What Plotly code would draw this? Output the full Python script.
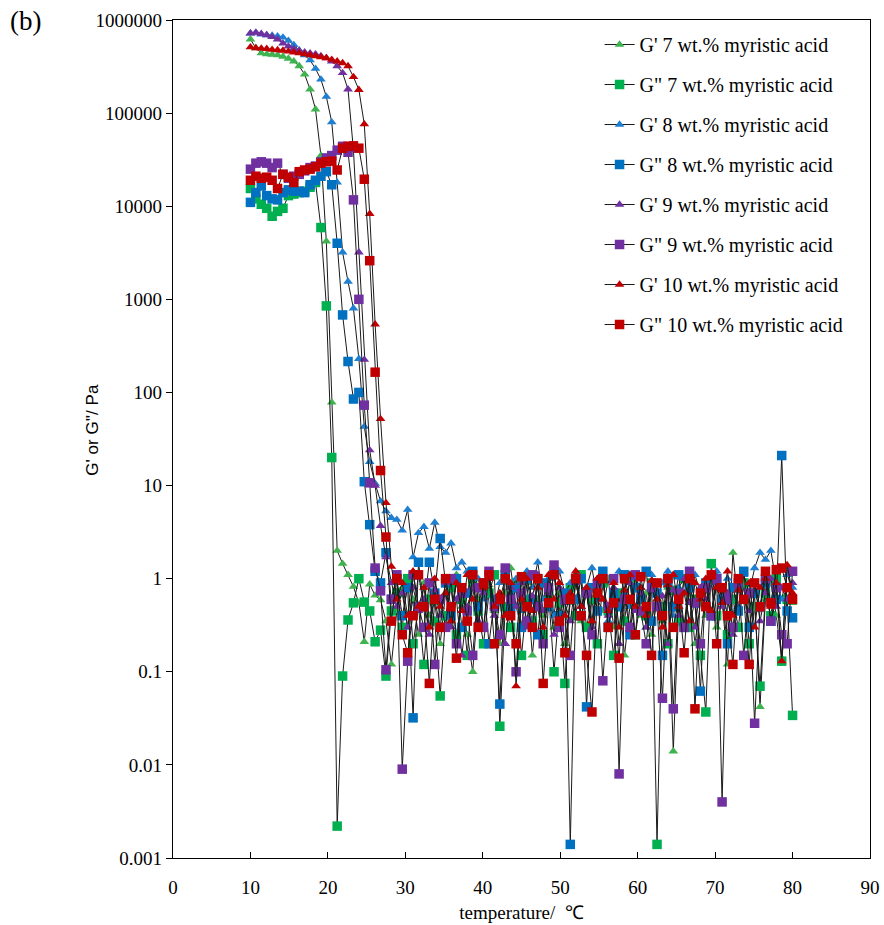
import plotly.graph_objects as go

# Temperature sweep (°C), one reading every 0.7 °C
temperature = [
    10.0, 10.7, 11.4, 12.1, 12.8, 13.5, 14.2, 14.9, 15.6, 16.3,
    17.0, 17.7, 18.4, 19.1, 19.8, 20.5, 21.2, 21.9, 22.6, 23.3,
    24.0, 24.7, 25.4, 26.1, 26.8, 27.5, 28.2, 28.9, 29.6, 30.3,
    31.0, 31.7, 32.4, 33.1, 33.8, 34.5, 35.2, 35.9, 36.6, 37.3,
    38.0, 38.7, 39.4, 40.1, 40.8, 41.5, 42.2, 42.9, 43.6, 44.3,
    45.0, 45.7, 46.4, 47.1, 47.8, 48.5, 49.2, 49.9, 50.6, 51.3,
    52.0, 52.7, 53.4, 54.1, 54.8, 55.5, 56.2, 56.9, 57.6, 58.3,
    59.0, 59.7, 60.4, 61.1, 61.8, 62.5, 63.2, 63.9, 64.6, 65.3,
    66.0, 66.7, 67.4, 68.1, 68.8, 69.5, 70.2, 70.9, 71.6, 72.3,
    73.0, 73.7, 74.4, 75.1, 75.8, 76.5, 77.2, 77.9, 78.6, 79.3,
    80.0,
]

# Storage modulus G' (Pa), 7 wt.% myristic acid
g1_7 = [
    620000, 500000, 440000, 430000, 425000, 420000, 405000, 385000, 360000, 320000,
    260000, 180000, 110000, 35000, 4200, 78, 2.0, 1.45, 1.1, 0.82,
    0.55, 0.21, 0.87, 0.66, 0.59, 0.35, 0.12, 0.45, 0.8, 0.3,
    0.6, 0.25, 0.9, 0.4, 0.55, 0.2, 0.7, 0.35, 1.1, 0.5,
    0.25, 0.1, 0.6, 0.3, 0.85, 0.45, 0.2, 0.7, 1.3, 0.5,
    0.3, 0.9, 0.15, 0.6, 0.4, 1.0, 0.3, 0.7, 0.2, 0.55,
    1.1, 0.35, 0.8, 0.25, 0.6, 0.45, 1.0, 0.3, 0.65, 0.15,
    0.5, 0.9, 0.4, 0.7, 0.25, 0.6, 0.35, 0.8, 0.014, 0.5,
    0.3, 0.75, 0.2, 0.55, 0.4, 0.9, 0.3, 0.6, 0.12, 1.9,
    0.5, 0.8, 0.3, 0.65, 0.042, 0.6, 0.9, 0.4, 0.14, 1.3,
    0.55,
]

# Loss modulus G'' (Pa), 7 wt.% myristic acid
g2_7 = [
    15500, 12000, 10500, 9500, 7800, 8800, 9500, 13000, 13500, 14000,
    14500, 16000, 18000, 5900, 850, 20, 0.0022, 0.09, 0.36, 0.55,
    1.0, 0.56, 0.45, 0.21, 0.28, 0.09, 0.45, 0.7, 0.3, 1.0,
    0.2, 0.5, 0.12, 0.6, 0.35, 0.055, 0.4, 0.8, 0.25, 0.6,
    0.15, 0.9, 0.45, 0.2, 0.7, 1.1, 0.026, 0.5, 0.3, 0.9,
    0.15, 0.6, 0.35, 1.0, 0.25, 0.7, 0.1, 0.55, 0.075, 0.8,
    0.4, 1.1, 0.3, 0.6, 0.2, 0.9, 0.45, 0.15, 0.7, 0.35,
    1.0, 0.25, 0.6, 0.4, 0.9, 0.0014, 0.5, 0.2, 0.75, 0.35,
    1.0, 0.3, 0.6, 0.15, 0.037, 1.45, 0.4, 0.8, 0.25, 0.6,
    0.3, 0.9, 0.2, 0.5, 0.07, 0.7, 0.4, 1.0, 0.13, 0.6,
    0.034,
]

# Storage modulus G' (Pa), 8 wt.% myristic acid
g1_8 = [
    720000, 730000, 700000, 690000, 680000, 670000, 650000, 600000, 540000, 470000,
    420000, 370000, 300000, 230000, 150000, 80000, 18000, 3200, 1550, 800,
    230, 43, 18, 10.5, 6.8, 5.3, 4.5, 4.3, 3.3, 5.5,
    1.7, 3.1, 3.6, 2.1, 4.0, 2.2, 1.9, 2.4, 1.3, 1.5,
    1.2, 0.8, 1.0, 0.6, 1.1, 0.5, 0.9, 1.3, 0.7, 1.0,
    0.45, 1.2, 0.8, 1.5, 0.6, 1.0, 0.4, 1.2, 0.7, 0.9,
    1.1, 0.5, 0.8, 1.3, 0.6, 1.0, 0.35, 0.9, 1.2, 0.7,
    0.5, 1.0, 0.8, 0.3, 1.1, 0.6, 0.9, 1.2, 0.4, 0.8,
    1.0, 0.55, 1.1, 0.7, 0.9, 0.4, 1.2, 0.6, 1.0, 0.8,
    0.5, 1.1, 0.7, 1.3, 1.9, 1.6, 2.0, 0.9, 0.6, 1.1,
    0.8,
]

# Loss modulus G'' (Pa), 8 wt.% myristic acid
g2_8 = [
    11000, 14000, 16500, 13000, 12000, 11700, 14000, 15000, 14500, 14500,
    14000, 17000, 19000, 21000, 23500, 17000, 4000, 680, 215, 85,
    100, 11, 3.8, 1.2, 0.9, 1.9, 0.6, 1.0, 0.4, 0.8,
    0.032, 1.5, 0.5, 1.5, 0.7, 2.7, 0.9, 0.4, 1.0, 0.3,
    0.7, 1.2, 0.5, 0.9, 0.2, 0.6, 0.045, 1.1, 0.5, 0.8,
    0.3, 1.0, 0.6, 0.25, 0.9, 0.5, 1.2, 0.4, 0.7, 0.0014,
    0.6, 1.0, 0.042, 0.8, 0.45, 1.2, 0.3, 0.7, 0.5, 1.1,
    0.25, 0.8, 0.6, 1.2, 0.35, 0.7, 0.15, 0.9, 0.5, 1.1,
    0.3, 0.8, 0.55, 0.062, 0.9, 0.4, 1.0, 0.6, 0.2, 0.8,
    0.45, 1.2, 0.3, 0.7, 0.5, 0.9, 0.35, 0.6, 21, 0.45,
    0.38,
]

# Storage modulus G' (Pa), 9 wt.% myristic acid
g1_9 = [
    720000, 730000, 710000, 690000, 660000, 620000, 560000, 520000, 490000, 470000,
    450000, 440000, 430000, 410000, 390000, 360000, 320000, 270000, 180000, 40000,
    3200, 225, 24, 10, 3.7, 1.7, 0.9, 0.5, 0.7, 0.3,
    0.8, 0.45, 0.6, 0.25, 0.75, 0.4, 0.9, 0.3, 0.6, 0.15,
    0.5, 0.8, 0.35, 0.7, 1.0, 0.4, 0.6, 0.2, 0.8, 0.5,
    0.9, 0.3, 0.65, 1.1, 0.45, 0.7, 0.25, 0.8, 0.55, 0.35,
    0.9, 0.5, 0.7, 0.3, 1.0, 0.6, 0.4, 0.8, 0.2, 0.6,
    0.9, 0.45, 0.7, 0.3, 0.85, 0.5, 0.65, 0.2, 0.75, 0.4,
    1.0, 0.55, 0.3, 0.8, 0.6, 0.4, 0.9, 0.5, 0.7, 0.25,
    0.8, 0.6, 0.45, 0.9, 0.35, 0.7, 1.0, 0.5, 0.8, 0.6,
    0.9,
]

# Loss modulus G'' (Pa), 9 wt.% myristic acid
g2_9 = [
    25000, 29000, 30000, 29000, 26000, 29000, 22000, 20000, 21000, 22000,
    24000, 26000, 27000, 30000, 33000, 35000, 40000, 44000, 38000, 11700,
    1000, 73, 10.7, 1.3, 0.74, 0.105, 0.6, 1.1, 0.009, 0.13,
    1.1, 0.5, 0.3, 0.9, 0.12, 0.6, 0.3, 1.0, 0.2, 0.7,
    0.45, 0.15, 0.8, 0.3, 1.2, 0.5, 0.25, 1.3, 0.6, 0.1,
    0.7, 0.35, 1.1, 0.5, 0.2, 0.8, 1.4, 0.3, 0.6, 0.15,
    1.0, 0.4, 0.7, 0.25, 0.9, 0.08, 0.5, 1.0, 0.008, 0.6,
    0.3, 1.1, 0.45, 0.2, 0.8, 0.5, 0.052, 1.0, 0.04, 0.7,
    0.3, 1.2, 0.55, 0.2, 0.8, 0.4, 1.0, 0.004, 0.6, 0.3,
    0.9, 0.15, 0.7, 0.028, 0.5, 1.0, 0.35, 0.8, 0.25, 0.2,
    1.2,
]

# Storage modulus G' (Pa), 10 wt.% myristic acid
g1_10 = [
    510000, 500000, 495000, 490000, 480000, 475000, 470000, 460000, 450000, 440000,
    430000, 420000, 410000, 400000, 390000, 375000, 360000, 345000, 320000, 245000,
    178000, 76000, 8300, 540, 52, 6.5, 1.35, 0.6, 0.9, 0.4,
    1.2, 0.5, 0.8, 0.3, 1.0, 0.5, 0.7, 0.35, 0.9, 0.45,
    1.1, 0.6, 0.3, 0.8, 1.0, 0.5, 0.7, 0.4, 0.9, 0.07,
    0.6, 1.0, 0.45, 0.8, 0.3, 1.1, 0.6, 0.9, 0.4, 0.7,
    1.2, 0.5, 0.8, 0.35, 1.0, 0.6, 0.45, 0.9, 0.3, 0.75,
    1.1, 0.5, 0.8, 0.4, 0.95, 0.6, 0.3, 0.85, 1.1, 0.5,
    0.7, 0.35, 0.9, 0.6, 1.0, 0.45, 0.8, 0.55, 1.2, 0.4,
    0.75, 0.6, 0.9, 0.3, 0.8, 1.0, 0.5, 0.9, 0.13, 1.4,
    0.7,
]

# Loss modulus G'' (Pa), 10 wt.% myristic acid
g2_10 = [
    19000, 21000, 20000, 20500, 19000, 15500, 22000, 20500, 18000, 23500,
    24500, 25000, 26500, 29000, 30000, 30500, 24500, 42000, 44000, 44500,
    42000, 19500, 2600, 165, 14.5, 2.8, 0.35, 1.0, 0.25, 0.16,
    0.4, 1.1, 0.5, 0.075, 0.6, 0.3, 1.0, 0.5, 0.14, 0.8,
    0.35, 1.1, 0.3, 0.9, 1.1, 0.2, 0.6, 1.0, 0.4, 0.2,
    1.05, 0.5, 0.3, 1.0, 0.075, 0.55, 1.1, 0.35, 0.16, 0.6,
    1.0, 0.4, 0.15, 0.037, 0.7, 1.0, 0.3, 0.55, 0.14, 1.0,
    0.6, 0.25, 1.05, 0.5, 0.15, 0.9, 0.4, 1.0, 0.3, 0.6,
    0.16, 1.0, 0.04, 0.7, 0.5, 1.1, 0.2, 0.8, 0.4, 0.12,
    1.0, 0.6, 0.12, 0.9, 0.5, 1.2, 0.55, 1.25, 1.3, 0.8,
    0.6,
]

series = [
    ("G' 7 wt.% myristic acid", g1_7, "triangle-up", "#3fb34f"),
    ('G" 7 wt.% myristic acid', g2_7, "square", "#00b050"),
    ("G' 8 wt.% myristic acid", g1_8, "triangle-up", "#1f7fd0"),
    ('G" 8 wt.% myristic acid', g2_8, "square", "#0070c0"),
    ("G' 9 wt.% myristic acid", g1_9, "triangle-up", "#7030a0"),
    ('G" 9 wt.% myristic acid', g2_9, "square", "#7030a0"),
    ("G' 10 wt.% myristic acid", g1_10, "triangle-up", "#c00000"),
    ('G" 10 wt.% myristic acid', g2_10, "square", "#c00000"),
]

for _, vals, _, _ in series:
    assert len(vals) == len(temperature), len(vals)

SERIF = "Liberation Serif, Times New Roman, serif"

fig = go.Figure()
for k, (name, vals, sym, col) in enumerate(series):
    fig.add_trace(go.Scatter(
        x=temperature, y=vals, name=name, mode="lines+markers",
        legendgroup=f"g{k}",
        line=dict(color="#1a1a1a", width=1),
        marker=dict(symbol=sym, color=col,
                    size=8.5 if sym == "triangle-up" else 9.5,
                    line=dict(width=0)),
    ))

y_ticks = [0.001, 0.01, 0.1, 1, 10, 100, 1000, 10000, 100000, 1000000]
y_text = ["0.001", "0.01", "0.1", "1", "10", "100", "1000", "10000", "100000", "1000000"]

fig.update_layout(
    width=884, height=925,
    margin=dict(l=173, r=14, t=20, b=67),
    paper_bgcolor="white", plot_bgcolor="white",
    font=dict(family=SERIF, color="black", size=18),
    showlegend=True,
    legend=dict(
        x=0.612, xanchor="left", y=0.994, yanchor="top",
        bgcolor="rgba(0,0,0,0)", borderwidth=0,
        font=dict(family=SERIF, size=20, color="black"),
        tracegroupgap=11, traceorder="grouped",
    ),
    xaxis=dict(
        range=[0, 90], dtick=10, tick0=0, automargin=False,
        showline=True, linecolor="black", linewidth=1.3, mirror=True,
        ticks="inside", ticklen=6, tickcolor="black", tickwidth=1.3,
        showgrid=False, zeroline=False,
        ticklabelstandoff=12,
        tickfont=dict(family=SERIF, size=19),
        title=dict(text="temperature/  \u2103", standoff=8,
                   font=dict(family=SERIF, size=19)),
    ),
    yaxis=dict(
        type="log", range=[-3, 6], automargin=False,
        tickvals=y_ticks, ticktext=y_text,
        showline=True, linecolor="black", linewidth=1.3, mirror=True,
        ticks="outside", ticklen=6, tickcolor="black", tickwidth=1.3,
        showgrid=False, zeroline=False,
        tickfont=dict(family=SERIF, size=19),
    ),
    annotations=[
        dict(
            text="G' or G''/ Pa", xref="paper", yref="paper",
            x=-0.115, y=0.511, xanchor="center", yanchor="middle",
            textangle=-90, showarrow=False,
            font=dict(family="Liberation Sans Narrow, Liberation Sans, sans-serif",
                      size=17, color="black"),
        ),
        dict(
            text="(b)", xref="paper", yref="paper",
            x=-0.237, y=1.019, xanchor="left", yanchor="top",
            showarrow=False, font=dict(family=SERIF, size=27, color="black"),
        ),
    ],
)

fig.write_html("out.html")
